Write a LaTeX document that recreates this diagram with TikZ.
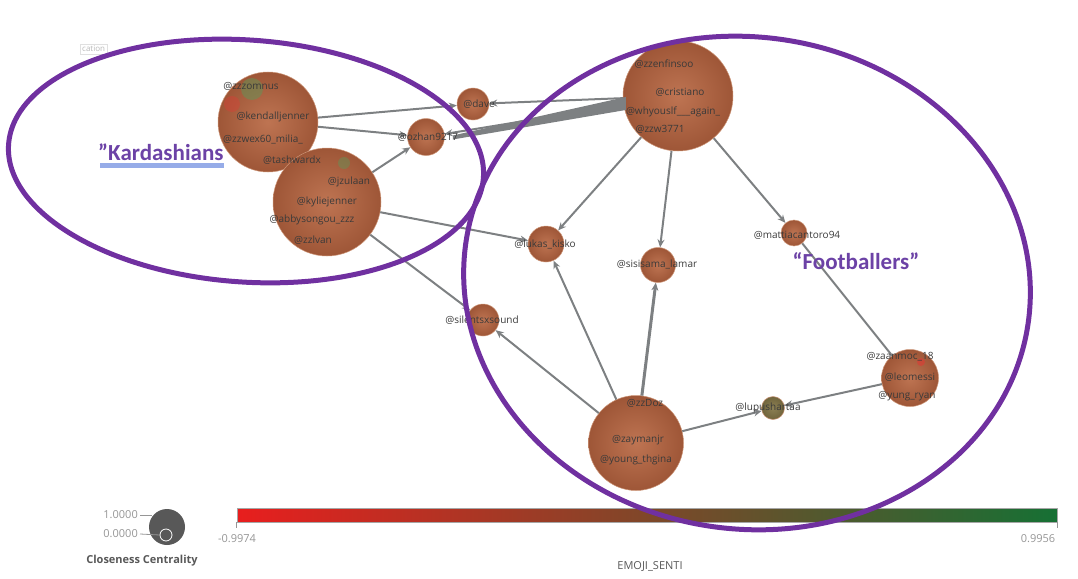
\documentclass[tikz,border=0pt]{standalone}
\usepackage{fontspec}
\setsansfont{Open Sans}
\newfontfamily\callout{Carlito}
\usetikzlibrary{positioning, calc, arrows.meta}
\definecolor{ringpurple}{RGB}{112,48,160}
\definecolor{tagpurple}{RGB}{108,66,166}
\definecolor{tagline}{RGB}{150,172,232}
\definecolor{userbrown}{RGB}{158,86,55}
\definecolor{userlight}{RGB}{190,116,82}
\definecolor{useredge}{RGB}{205,150,120}
\definecolor{oliveuser}{RGB}{112,100,60}
\definecolor{olivelight}{RGB}{140,128,84}
\definecolor{linkgray}{RGB}{125,128,130}
\definecolor{handlegray}{RGB}{58,58,58}
\definecolor{keygray}{RGB}{150,150,150}
\definecolor{keydark}{RGB}{88,88,88}
\definecolor{sentired}{RGB}{232,30,30}
\definecolor{sentibrown}{RGB}{126,72,42}
\definecolor{sentigreen}{RGB}{22,112,52}
\definecolor{patchgreen}{RGB}{96,150,88}
\definecolor{patchred}{RGB}{214,64,54}
\tikzset{
  user/.style={circle, draw=useredge, line width=0.5pt, inner sep=0pt,
    inner color=userlight, outer color=userbrown, minimum size=#1},
  handle/.style={font=\sffamily\fontsize{10}{11}\selectfont, text=handlegray, inner sep=0pt},
  link/.style={draw=linkgray, line width=2pt, -{Stealth[length=8pt, width=7pt]}},
  ring/.style={draw=ringpurple, line width=5pt},
  tag/.style={font=\callout\bfseries\fontsize{23}{26}\selectfont, text=tagpurple, inner sep=0pt},
  keylbl/.style={font=\sffamily\fontsize{11}{12}\selectfont, text=keygray, inner sep=0pt},
  keyline/.style={draw=keygray, line width=0.8pt},
}

\begin{document}
\begin{tikzpicture}[x=1pt, y=-1pt]
\useasboundingbox (0,0) rectangle (1078,578);

% ============================================================ faded fragment
\node[draw=black!12, text=black!28, font=\sffamily\fontsize{8}{9}\selectfont,
  inner sep=2pt, anchor=west] (frag) at (80,49) {cation};

% ============================================================ users
\node[user=100pt] (k1) at (268,122) {};
\node[user=108pt] (k2) at (327,202) {};
\node[user=32pt]  (dave) at (473,104) {};
\node[user=37pt]  (oz) at (426,137) {};
\node[user=110pt] (f1) at (678,96) {};
\node[user=36pt]  (lukas) at (546,244) {};
\node[user=35pt]  (sisi) at (658,265) {};
\node[user=26pt]  (mattia) at (794,233) {};
\node[user=32pt]  (silent) at (483,320) {};
\node[user=95pt]  (b1) at (636,443) {};
\node[user=23pt, inner color=olivelight, outer color=oliveuser] (lupus) at (773,408) {};
\node[user=57pt]  (messi) at (910,378) {};

% colour patches on some users
\fill[patchgreen, opacity=0.5] (252,89) circle (11);
\fill[patchred, opacity=0.45] (232,104) circle (8);
\fill[patchgreen, opacity=0.45] (344,163) circle (6);
\fill[patchred, opacity=0.7] (921,362) circle (4);

% ============================================================ links
% wide band f1 -> oz
\fill[linkgray] ($(oz.east)+(8,-1.5)$) -- ($(f1.west)+(3,1)$) -- ($(f1.west)+(3,14)$) -- ($(oz.east)+(8,2.5)$) -- cycle;
\draw[link] (f1) -- (oz);
\draw[link] (k1) -- (dave);
\draw[link] (f1) -- (dave);
\draw[link] (k1) -- (oz);
\draw[link] (k2) -- (oz);
\draw[link] (k2) -- (lukas);
\draw[link] (k2) -- (silent);
\draw[link] (f1) -- (lukas);
\draw[link] (f1) -- (sisi);
\draw[link] (f1) -- (mattia);
\draw[link, -] (mattia) -- (messi);
\draw[link] (b1) -- (lukas);
\draw[link, line width=3pt] (b1) -- (sisi);
\draw[link] (b1) -- (silent);
\draw[link] (b1) -- (lupus);
\draw[link] (messi) -- (lupus);

% ============================================================ handles
\node[handle] (hk1a) at (251,86)  {@zzzomnus};
\node[handle] (hk1b) at (273,117) {@kendalljenner};
\node[handle] (hk1c) at (263,139) {@zzwex60\_milia\_};
\node[handle] (hk1d) at (292,160) {@tashwardx};
\node[handle] (hk2a) at (349,182) {@jzulaan};
\node[handle] (hk2b) at (327,202) {@kyliejenner};
\node[handle] (hk2c) at (312,220) {@abbysongou\_zzz};
\node[handle] (hk2d) at (313,240) {@zzlvan};
\node[handle] (hdave) at (479,104) {@dave};
\node[handle] (hoz) at (428,137) {@ozhan9217};
\node[handle] (hf1a) at (664,64)  {@zzenfinsoo};
\node[handle] (hf1b) at (680,92)  {@cristiano};
\node[handle] (hf1c) at (673,112) {@whyouslf\_\_\_again\_};
\node[handle] (hf1d) at (660,129) {@zzw3771};
\node[handle] (hlukas) at (545,244) {@lukas\_kisko};
\node[handle] (hsisi) at (657,264) {@sisisama\_lamar};
\node[handle] (hmattia) at (797,235) {@mattiacantoro94};
\node[handle] (hsilent) at (482,320) {@silentsxsound};
\node[handle] (hb1a) at (645,403) {@zzDoz};
\node[handle] (hb1b) at (638,440) {@zaymanjr};
\node[handle] (hb1c) at (636,460) {@young\_thgina};
\node[handle] (hlupus) at (768,408) {@lupushartaa};
\node[handle] (hmessia) at (900,357) {@zaanmoc\_18};
\node[handle] (hmessib) at (910,377) {@leomessi};
\node[handle] (hmessic) at (907,396) {@yung\_ryan};

% ============================================================ legend
\node[circle, fill=keydark, minimum size=36pt, inner sep=0pt] (cckey) at (167,527) {};
\node[circle, draw=white, line width=0.8pt, minimum size=12pt, inner sep=0pt] (ccmin) at (166,535) {};
\node[keylbl, anchor=east] (ccmaxlbl) at (138,515) {1.0000};
\node[keylbl, anchor=east] (ccminlbl) at (138,534) {0.0000};
\draw[keyline] ([xshift=2pt]ccmaxlbl.east) -- ++(12,0);
\draw[keyline] ([xshift=2pt]ccminlbl.east) -- (ccmin.west);
\node[font=\sffamily\bfseries\fontsize{11}{12}\selectfont, text=keydark, inner sep=0pt] (cclbl) at (142,561) {Closeness Centrality};

\node[minimum width=820pt, minimum height=14pt, inner sep=0pt, draw=black!35, line width=0.4pt,
  left color=sentired, middle color=sentibrown, right color=sentigreen] (sentibar) at (647,515) {};
\draw[keyline] (sentibar.south west) -- ++(0,6);
\draw[keyline] (sentibar.south east) -- ++(0,6);
\node[keylbl] (sentimin) at (237,539) {-0.9974};
\node[keylbl] (sentimax) at (1038,539) {0.9956};
\node[font=\sffamily\fontsize{11}{12}\selectfont, text=keydark, inner sep=0pt] (sentilbl) at (650,567) {EMOJI\_SENTI};

% ============================================================ rings
\draw[ring, rotate around={-4:(246,161)}] (246,161) ellipse [x radius=238, y radius=121];
\draw[ring, rotate around={-8:(747,283)}] (747,283) ellipse [x radius=284, y radius=246];

\node[tag, anchor=west] (kardtag) at (98,152) {”Kardashians};
\fill[tagline] ($(kardtag.south west)+(2,2)$) rectangle ($(kardtag.south east)+(0,7)$);
\node[tag] (foottag) at (856,261) {“Footballers”};

\end{tikzpicture}
\end{document}
